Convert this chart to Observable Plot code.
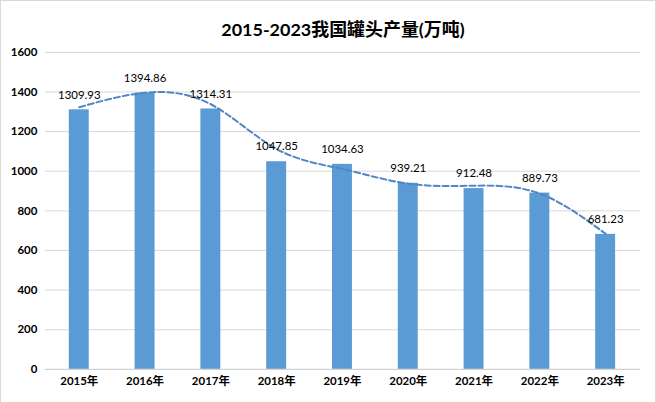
<!DOCTYPE html>
<html>
<head>
<meta charset="utf-8">
<script src="https://cdn.jsdelivr.net/npm/d3@7"></script>
<script src="https://cdn.jsdelivr.net/npm/@observablehq/plot@0.6"></script>
<style>
  html, body { margin: 0; padding: 0; background: #fff; }
  #chart svg { display: block; }
</style>
</head>
<body>
<div id="chart"></div>
<script>
const title = "2015-2023我国罐头产量(万吨)";
const years = ["2015年","2016年","2017年","2018年","2019年","2020年","2021年","2022年","2023年"];
const values = [1309.93, 1394.86, 1314.31, 1047.85, 1034.63, 939.21, 912.48, 889.73, 681.23];
// trendline values at each year
const trendValues = [1323, 1396, 1338, 1112, 1011, 937, 927, 887, 684];
const yTicks = [0, 200, 400, 600, 800, 1000, 1200, 1400, 1600];

const data = years.map((year, i) => ({year, value: values[i]}));
const trend = years.map((year, i) => ({year, value: trendValues[i]}));
const font = "Lato, 'Noto Sans CJK SC', sans-serif";

const chart = Plot.plot({
  width: 656,
  height: 402,
  marginTop: 51,
  marginBottom: 33,
  marginLeft: 44,
  marginRight: 15,
  style: {fontFamily: font, fontSize: "11.5px", fontWeight: "bold", color: "#000", background: "#fff"},
  x: {domain: years, paddingInner: 0.69, paddingOuter: 0.345, label: null, tickSize: 0, tickPadding: 8},
  y: {domain: [0, 1600], ticks: yTicks, tickFormat: d => String(d), label: null, tickSize: 0, tickPadding: 8},
  marks: [
    Plot.gridY(yTicks, {stroke: "#d9d9d9", strokeOpacity: 1}),
    Plot.barY(data, {x: "year", y: "value", fill: "#5b9bd5"}),
    Plot.line(trend, {x: "year", y: "value", curve: "natural", stroke: "#4f86c6", strokeWidth: 2, strokeDasharray: "6,3"}),
    Plot.text(data, {x: "year", y: "value", text: d => d.value.toFixed(2), dy: -15, fill: "#000", fontWeight: "normal", fontSize: 11.5}),
    Plot.ruleY([0], {stroke: "#d0d0d0"}),
    Plot.text([title], {frameAnchor: "top", dy: -29, fontSize: 18, fontWeight: "bold", fill: "#000", fontFamily: font})
  ]
});
chart.style.border = "1px solid #d9d9d9";
chart.style.boxSizing = "border-box";
document.getElementById("chart").appendChild(chart);
</script>
</body>
</html>
